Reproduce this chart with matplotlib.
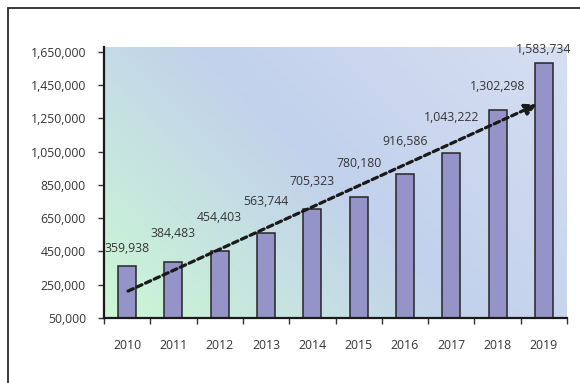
import numpy as np
import matplotlib
matplotlib.use("Agg")
import matplotlib.pyplot as plt
from matplotlib.patches import Rectangle
from matplotlib.colors import LinearSegmentedColormap
from matplotlib.ticker import FuncFormatter, FixedLocator

plt.rcParams['font.family'] = ['Open Sans', 'DejaVu Sans']

# ---- data ----
years = ['2010', '2011', '2012', '2013', '2014', '2015', '2016', '2017', '2018', '2019']
values = [359938, 384483, 454403, 563744, 705323, 780180, 916586, 1043222, 1302298, 1583734]
y_ticks = [50000, 250000, 450000, 650000, 850000, 1050000, 1250000, 1450000, 1650000]
# hand-drawn trend arrow (category index, value)
arrow_x = [0.02, 8.85]
arrow_y = [212000, 1335000]
# label offsets above bar tops (points), as placed in the original
label_offsets = [8, 16, 19, 18, 15, 19, 19, 21, 12, 5]

TXT = '#353535'
FS = 8.8

fig = plt.figure(figsize=(5.8, 3.83), dpi=100)
fig.patch.set_facecolor('white')

# outer frame (runs off the right and bottom edges)
fig.patches.append(Rectangle((7.5 / 580, -0.2), 1.2, 1.2 - 7.5 / 383,
                             transform=fig.transFigure, fill=False,
                             edgecolor='#2a2a2a', linewidth=1.3))

ax = fig.add_axes([104 / 580, 65 / 383, 463 / 580, 271 / 383])
ax.set_xlim(-0.5, 9.5)
ax.set_ylim(50000, 1680000)

# gradient background
cmap = LinearSegmentedColormap.from_list('bg', [(0.0, '#cbf8d4'), (0.5, '#c2d1ec'), (1.0, '#d6dff2')])
gx, gy = np.meshgrid(np.linspace(0, 1, 200), np.linspace(0, 1, 200))
grad = (gx * 463 + gy * 271) / (463 + 271)
ax.imshow(grad, cmap=cmap, extent=[0, 1, 0, 1], origin='lower', aspect='auto',
          transform=ax.transAxes, zorder=0)

x = np.arange(len(years))
ax.bar(x, np.array(values) - 50000, bottom=50000, width=0.39, color='#9494c8',
       edgecolor='#262626', linewidth=1.1, zorder=2)

for xi, v, off in zip(x, values, label_offsets):
    ax.annotate(f'{v:,}', (xi, v), xytext=(0, off), textcoords='offset points',
                ha='center', va='bottom', fontsize=FS, color=TXT, zorder=4)

ax.annotate('', xy=(arrow_x[1], arrow_y[1]), xytext=(arrow_x[0], arrow_y[0]),
            arrowprops=dict(arrowstyle='-|>', linestyle=(0, (1.8, 1.2)), lw=2.3,
                            color='#1a1a1a', mutation_scale=17, shrinkA=0, shrinkB=0),
            zorder=3)

# axes styling
for s in ['top', 'right']:
    ax.spines[s].set_visible(False)
for s in ['left', 'bottom']:
    ax.spines[s].set_linewidth(1.6)
    ax.spines[s].set_color('#1a1a1a')
    ax.spines[s].set_zorder(5)

ax.yaxis.set_major_locator(FixedLocator(y_ticks))
ax.yaxis.set_major_formatter(FuncFormatter(lambda v, p: f'{int(v):,}'))
ax.tick_params(axis='y', direction='out', length=4, width=1, color='#333333',
               labelsize=FS, labelcolor=TXT, pad=9)

ax.set_xticks(x)
ax.set_xticklabels(years)
ax.set_xticks(np.arange(-0.5, 10, 1), minor=True)
ax.tick_params(axis='x', which='major', length=0, labelsize=FS, labelcolor=TXT, pad=15)
ax.tick_params(axis='x', which='minor', direction='out', length=4, width=1, color='#333333')

fig.savefig('out.png', dpi=100, facecolor='white')
